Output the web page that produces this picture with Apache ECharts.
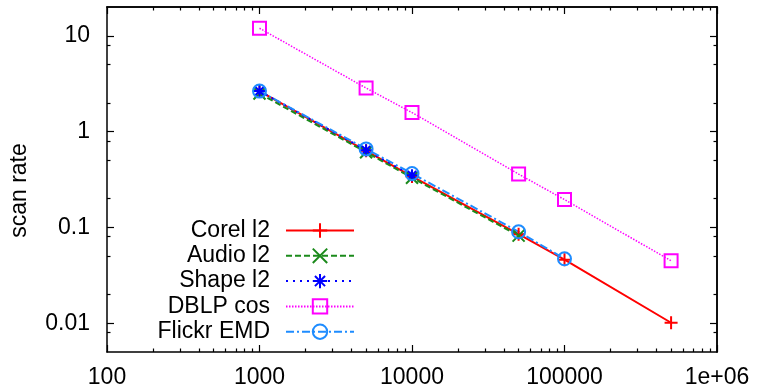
<!DOCTYPE html>
<html>
<head>
<meta charset="utf-8">
<script src="https://cdn.jsdelivr.net/npm/echarts@6/dist/echarts.min.js"></script>
<style>
html, body { margin: 0; padding: 0; background: #fff; }
#main { width: 758px; height: 389px; }
</style>
</head>
<body>
<div id="main"></div>
<script>
// values
var seriesNames = ["Corel l2", "Audio l2", "Shape l2", "DBLP cos", "Flickr EMD"];

var xCorel = [1000, 5000, 10000, 50000, 100000, 500000];
var yCorel = [2.65, 0.63, 0.34, 0.085, 0.046, 0.0101];

var xAudio = [1000, 5000, 10000, 50000];
var yAudio = [2.5, 0.61, 0.33, 0.082];

var xShape = [1000, 5000, 10000];
var yShape = [2.65, 0.64, 0.35];

var xDblp = [1000, 5000, 10000, 50000, 100000, 500000];
var yDblp = [12.0, 2.85, 1.58, 0.36, 0.195, 0.0448];

var xFlickr = [1000, 5000, 10000, 50000, 100000];
var yFlickr = [2.65, 0.66, 0.365, 0.09, 0.047];

// ticks
var xMajor = [100, 1000, 10000, 100000, 1000000];
var xTickLabels = ["100", "1000", "10000", "100000", "1e+06"];
var xMinor = [200, 300, 400, 500, 600, 700, 800, 900,
  2000, 3000, 4000, 5000, 6000, 7000, 8000, 9000,
  20000, 30000, 40000, 50000, 60000, 70000, 80000, 90000,
  200000, 300000, 400000, 500000, 600000, 700000, 800000, 900000];
var yMajor = [0.01, 0.1, 1, 10];
var yTickLabels = ["0.01", "0.1", "1", "10"];
var yMinor = [0.008, 0.02, 0.05, 0.08, 0.2, 0.5, 0.8, 2, 5, 8];

function pairs(xs, ys) {
  var out = [];
  for (var i = 0; i < xs.length; i++) out.push([xs[i], ys[i]]);
  return out;
}

var FONT = "Liberation Sans";
var black = "#000";

function axis(kind, pos, vals, len, labels) {
  var isX = kind == "x";
  var a = {
    type: "log",
    logBase: 10,
    min: isX ? 100 : 0.005,
    max: isX ? 1000000 : 20,
    position: pos,
    splitLine: { show: false },
    axisLine: { show: !!labels || pos == "top" || pos == "right", onZero: false, lineStyle: { color: black, width: 1.5 } },
    axisTick: { show: true, inside: true, length: len, customValues: vals, lineStyle: { color: black, width: 1.2 } },
    axisLabel: { show: false }
  };
  if (labels) {
    var majors = isX ? xMajor : yMajor;
    a.axisLabel = {
      show: true,
      customValues: majors,
      color: black,
      fontFamily: FONT,
      fontSize: 23,
      margin: isX ? 14 : 17,
      formatter: function (v) {
        for (var i = 0; i < majors.length; i++) {
          if (Math.abs(Math.log10(v) - Math.log10(majors[i])) < 1e-6) return labels[i];
        }
        return "";
      }
    };
  }
  return a;
}

var myChart = echarts.init(document.getElementById("main"));

var legends = [];
for (var i = 0; i < seriesNames.length; i++) {
  legends.push({
    data: [seriesNames[i]],
    orient: "vertical",
    right: 403,
    top: 219 + i * 25.3,
    align: "right",
    padding: 0,
    itemWidth: 68,
    itemHeight: 18,
    selectedMode: false,
    textStyle: { fontSize: 23, fontFamily: FONT, color: black, padding: [0, 11, 0, 0] }
  });
}

var yAx0 = axis("y", "left", yMajor, 7, yTickLabels);
yAx0.name = "scan rate";
yAx0.nameLocation = "middle";
yAx0.nameGap = 76;
yAx0.nameTextStyle = { fontSize: 23, fontFamily: FONT, color: black, padding: [0, 22, 0, 0] };

myChart.setOption({
  animation: false,
  backgroundColor: "#fff",
  grid: { left: 104, right: 41, top: 7, bottom: 37 },
  legend: legends,
  xAxis: [
    axis("x", "bottom", xMajor, 7, xTickLabels),
    axis("x", "bottom", xMinor, 3.5),
    axis("x", "top", xMajor, 7),
    axis("x", "top", xMinor, 3.5)
  ],
  yAxis: [
    yAx0,
    axis("y", "left", yMinor, 3.5),
    axis("y", "right", yMajor, 7),
    axis("y", "right", yMinor, 3.5)
  ],
  series: [
    {
      name: seriesNames[0], type: "line", data: pairs(xCorel, yCorel),
      symbol: "path://M0,5L10,5M5,0L5,10", symbolSize: 13,
      lineStyle: { color: "#ff0000", width: 2, type: "solid" },
      itemStyle: { color: "transparent", borderColor: "#ff0000", borderWidth: 2 }
    },
    {
      name: seriesNames[1], type: "line", data: pairs(xAudio, yAudio),
      symbol: "path://M0,0L10,10M10,0L0,10", symbolSize: 12,
      lineStyle: { color: "#1b8a1b", width: 2, type: [6, 3] },
      itemStyle: { color: "transparent", borderColor: "#1b8a1b", borderWidth: 2 }
    },
    {
      name: seriesNames[2], type: "line", data: pairs(xShape, yShape),
      symbol: "path://M0,5L10,5M5,0L5,10M1.5,1.5L8.5,8.5M8.5,1.5L1.5,8.5", symbolSize: 12,
      lineStyle: { color: "#0000ff", width: 2, type: [2, 5] },
      itemStyle: { color: "transparent", borderColor: "#0000ff", borderWidth: 2 }
    },
    {
      name: seriesNames[3], type: "line", data: pairs(xDblp, yDblp),
      symbol: "rect", symbolSize: 13,
      lineStyle: { color: "#ff00ff", width: 1.5, type: [1.5, 1.5] },
      itemStyle: { color: "transparent", borderColor: "#ff00ff", borderWidth: 2 }
    },
    {
      name: seriesNames[4], type: "line", data: pairs(xFlickr, yFlickr),
      symbol: "circle", symbolSize: 13,
      lineStyle: { color: "#1e8cff", width: 2, type: [8, 3, 2, 3] },
      itemStyle: { color: "transparent", borderColor: "#1e8cff", borderWidth: 2 }
    }
  ]
});
</script>
</body>
</html>
